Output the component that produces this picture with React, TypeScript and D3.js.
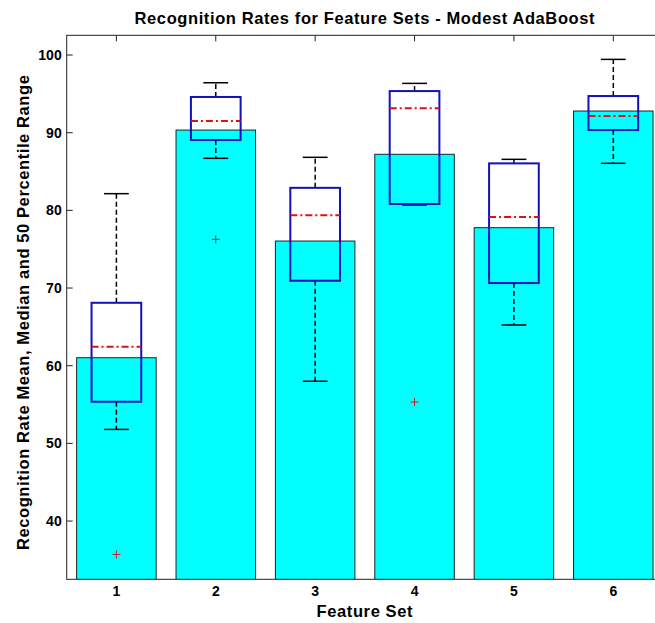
import React from "react";
import * as d3 from "d3";

const categories = [1, 2, 3, 4, 5, 6];
const means = [61.03, 90.34, 76.05, 87.22, 77.77, 92.79];
const whiskerLow = [51.8, 86.7, 58.0, 80.7, 65.24, 86.06];
const q1 = [55.36, 89.06, 70.94, 80.82, 70.64, 90.34];
const medians = [62.45, 91.5, 79.36, 93.14, 79.14, 92.15];
const q3 = [68.1, 94.6, 82.9, 95.36, 86.05, 94.72];
const whiskerHigh = [82.15, 96.43, 86.83, 96.35, 86.57, 99.44];
const outliers: number[][] = [[35.7], [76.27], [], [55.32], [], []];
const yTicks = [40, 50, 60, 70, 80, 90, 100];

const W = 655;
const H = 623;
const left = 66.7;
const right = 663;
const top = 35.3;
const bottom = 579.3;

export default function App() {
  const x = d3.scaleLinear().domain([0.5, 6.5]).range([left, right]);
  const y = d3.scaleLinear().domain([32.5, 102.54]).range([bottom, top]);
  const unit = x(1) - x(0);
  const barW = 0.8 * unit;
  const boxW = 0.5 * unit;
  const capW = 0.25 * unit;
  const font = "'Liberation Sans', Arial, Helvetica, sans-serif";
  const blue = "#1212bc";
  const red = "#e01010";

  return (
    <svg
      width={W}
      height={H}
      style={{ position: "absolute", left: 0, top: 0, background: "#fff" }}
      fontFamily={font}
      fontWeight="bold"
    >
      <defs>
        <clipPath id="plot">
          <rect x={left} y={top} width={right - left} height={bottom - top} />
        </clipPath>
      </defs>
      <rect x={0} y={0} width={W} height={H} fill="#fff" />
      {/* bars */}
      <g clipPath="url(#plot)">
        {categories.map((c, i) => (
          <rect
            key={"bar" + c}
            x={x(c) - barW / 2}
            y={y(means[i])}
            width={barW}
            height={y(0) - y(means[i])}
            fill="#00ffff"
            stroke="#222"
            strokeWidth={1}
          />
        ))}
      </g>
      {/* boxplots */}
      {categories.map((c, i) => {
        const cx = x(c);
        return (
          <g key={"box" + c}>
            <line x1={cx} x2={cx} y1={y(q3[i])} y2={y(whiskerHigh[i])} stroke="#000" strokeWidth={1.5} strokeDasharray="5,3" />
            <line x1={cx} x2={cx} y1={y(q1[i])} y2={y(whiskerLow[i])} stroke="#000" strokeWidth={1.5} strokeDasharray="5,3" />
            <line x1={cx - capW / 2} x2={cx + capW / 2} y1={y(whiskerHigh[i])} y2={y(whiskerHigh[i])} stroke="#000" strokeWidth={1.5} />
            <line x1={cx - capW / 2} x2={cx + capW / 2} y1={y(whiskerLow[i])} y2={y(whiskerLow[i])} stroke="#000" strokeWidth={1.5} />
            <rect
              x={cx - boxW / 2}
              y={y(q3[i])}
              width={boxW}
              height={y(q1[i]) - y(q3[i])}
              fill="none"
              stroke={blue}
              strokeWidth={2}
            />
            <line
              x1={cx - boxW / 2}
              x2={cx + boxW / 2}
              y1={y(medians[i])}
              y2={y(medians[i])}
              stroke={red}
              strokeWidth={2}
              strokeDasharray="7,3,2,3"
            />
            {outliers[i].map((o, j) => (
              <g key={j} stroke="#c82020" strokeWidth={1}>
                <line x1={cx - 4} x2={cx + 4} y1={y(o)} y2={y(o)} />
                <line x1={cx} x2={cx} y1={y(o) - 4} y2={y(o) + 4} />
              </g>
            ))}
          </g>
        );
      })}
      {/* frame */}
      <rect x={left} y={top} width={right - left} height={bottom - top} fill="none" stroke="#222" strokeWidth={1} />
      {/* y ticks */}
      {yTicks.map((t) => (
        <g key={"yt" + t}>
          <line x1={left} x2={left + 6} y1={y(t)} y2={y(t)} stroke="#222" />
          <text x={left - 5} y={y(t)} dy="0.36em" textAnchor="end" fontSize={14} fill="#000">
            {t}
          </text>
        </g>
      ))}
      {/* x ticks */}
      {categories.map((c) => (
        <g key={"xt" + c}>
          <line x1={x(c)} x2={x(c)} y1={top} y2={top + 6} stroke="#222" />
          <text x={x(c)} y={596} textAnchor="middle" fontSize={14} fill="#000">
            {c}
          </text>
        </g>
      ))}
      <text x={(left + right) / 2} y={23.5} textAnchor="middle" fontSize={16.5} letterSpacing={0.6} fill="#000">
        Recognition Rates for Feature Sets - Modest AdaBoost
      </text>
      <text x={(left + right) / 2} y={617} textAnchor="middle" fontSize={16.5} letterSpacing={0.6} fill="#000">
        Feature Set
      </text>
      <text
        transform={`translate(29,${(top + bottom) / 2 + 5}) rotate(-90)`}
        textAnchor="middle"
        fontSize={16.5}
        letterSpacing={0.6}
        fill="#000"
      >
        Recognition Rate Mean, Median and 50 Percentile Range
      </text>
    </svg>
  );
}
